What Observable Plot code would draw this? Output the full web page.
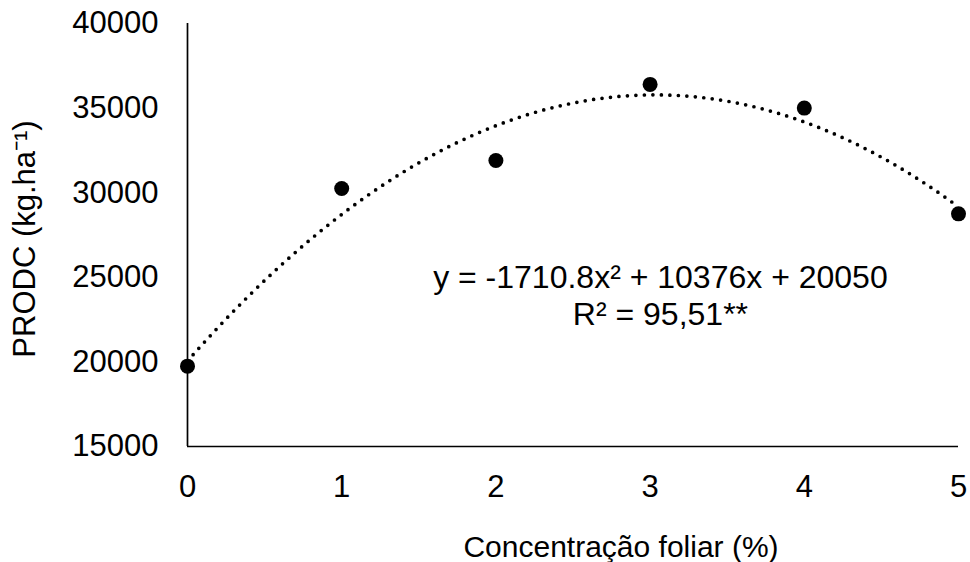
<!DOCTYPE html>
<html><head><meta charset="utf-8">
<script src="https://cdn.jsdelivr.net/npm/d3@7"></script>
<script src="https://cdn.jsdelivr.net/npm/@observablehq/plot@0.6"></script>
<style>body{margin:0;background:#fff;} #chart svg{display:block;}</style>
</head><body><div id="chart"></div>
<script>
const concentration = [0, 1, 2, 3, 4, 5];
const prodc = [19750, 30250, 31900, 36400, 35000, 28750];
const xTicks = [0, 1, 2, 3, 4, 5];
const yTicks = [15000, 20000, 25000, 30000, 35000, 40000];
// trendline coefficients printed on the chart: y = a x² + b x + c
const trendCoefficients = {a: -1710.8, b: 10376, c: 20050};
const equationLines = ["y = -1710.8x² + 10376x + 20050", "R² = 95,51**"];
const xLabel = "Concentração foliar (%)";
const yLabel = "PRODC (kg.ha⁻¹)";

const points = concentration.map((c, i) => ({c, v: prodc[i]}));
const trend = d3.range(0, 5.0001, 0.02).map(x => ({
  x, y: trendCoefficients.a * x * x + trendCoefficients.b * x + trendCoefficients.c
}));

const FONT = "Liberation Sans, Arial, Helvetica, sans-serif";

const chart = Plot.plot({
  width: 970,
  height: 562,
  marginLeft: 187,
  marginRight: 12,
  marginTop: 23,
  marginBottom: 116,
  style: {fontFamily: FONT, fontSize: "30px", color: "#000", background: "#fff"},
  x: {domain: [0, 5]},
  y: {domain: [15000, 40000]},
  marks: [
    Plot.axisX({ticks: xTicks, tickSize: 0, tickPadding: 28, fontSize: 31, label: null, tickFormat: d3.format("d"), fill: "#000"}),
    Plot.axisY({ticks: yTicks, tickSize: 0, tickPadding: 29, fontSize: 31, label: null, tickFormat: d3.format("d"), fill: "#000"}),
    Plot.ruleX([0], {y1: 15000, y2: 40000, stroke: "#000", strokeWidth: 1.7}),
    Plot.ruleY([15000], {x1: 0, x2: 5, stroke: "#000", strokeWidth: 1.7}),
    Plot.line(trend, {x: "x", y: "y", stroke: "#000", strokeWidth: 3.7, strokeDasharray: "0 8.5", strokeLinecap: "round"}),
    Plot.dot(points, {x: "c", y: "v", r: 7.5, fill: "#000", stroke: "none"}),
    Plot.text([equationLines.join("\n")], {x: 3.067, y: 25950, text: d => d, lineAnchor: "top", lineHeight: 1.16, fontSize: 32, textAnchor: "middle", fill: "#000"}),
    Plot.text([xLabel], {text: d => d, frameAnchor: "bottom", dx: 48, dy: 101, fontSize: 30, textAnchor: "middle", lineAnchor: "middle", fill: "#000"}),
    Plot.text([yLabel], {text: d => d, frameAnchor: "left", dx: -162, dy: 4, rotate: -90, fontSize: 31, textAnchor: "middle", lineAnchor: "middle", fill: "#000"})
  ]
});
document.getElementById("chart").appendChild(chart);
</script>
</body></html>
